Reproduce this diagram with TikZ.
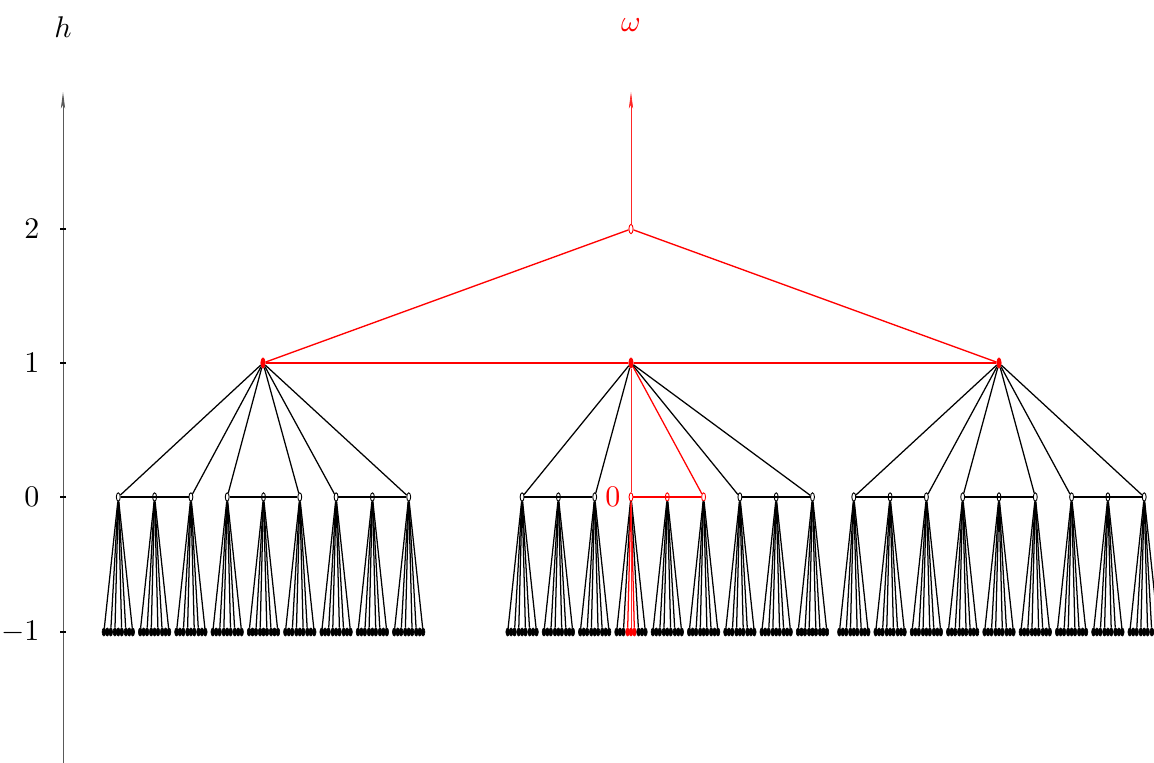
\documentclass[tikz,border=0pt]{standalone}
\usetikzlibrary{shapes.geometric,arrows.meta}
\begin{document}
\begin{tikzpicture}[x=0.334pt,y=-0.334pt,
  axis/.style={line width=0.3pt,black!65,-{Stealth[length=5.5pt,width=1.4pt,inset=1.2pt]}},
  tick/.style={line width=0.4pt},
  edge/.style={line width=0.42pt},
  hline/.style={line width=0.6pt},
  thinred/.style={line width=0.22pt,red!85},
  redge/.style={line width=0.45pt,red},
  opennode/.style={ellipse,draw,line width=0.3pt,fill=white,inner sep=0pt,minimum width=1.3pt,minimum height=2.8pt},
  rootnode/.style={opennode,draw=red,minimum width=1.4pt,minimum height=3.1pt},
  lonenode/.style={ellipse,draw=red,fill=red,line width=0.2pt,inner sep=0pt,minimum width=1.5pt,minimum height=3.5pt},
  leaf/.style={ellipse,draw,line width=0.2pt,inner sep=0pt,minimum width=1.25pt,minimum height=2.7pt}
]
\useasboundingbox (0,0) rectangle (1154,763);

% h axis
\coordinate (hb) at (63,763);
\coordinate (ht) at (63,92);
\draw[axis] (hb) -- (ht);
\node (hlab) at (63,27) {$h$};
\foreach \lv/\yy in {2/229,1/363,0/497,-1/632}{
  \coordinate (tl\lv) at (60,\yy);
  \coordinate (tr\lv) at (66,\yy);
  \draw[tick] (tl\lv) -- (tr\lv);
  \node[anchor=east] (lab\lv) at (50,\yy) {$\lv$};
}

% root and level 1
\node[rootnode] (root) at (631,229) {};
\coordinate (wt) at (631,92);
\draw[thinred,-{Stealth[length=5.5pt,width=1.4pt,inset=1.2pt]}] (root) -- (wt);
\node[red] (wlab) at (631,25) {$\omega$};
\foreach \n/\x in {L/263,M/631,R/999}
  \node[lonenode] (n1\n) at (\x,363) {};
\draw[redge] (root) -- (n1L);
\draw[redge] (root) -- (n1R);
\draw[redge] (n1L) -- (n1M) -- (n1R);

% level 0 and leaves
\foreach \n/\c/\s/\rk in {L/263.5/-4/0,M/631/-3/4,R/999/-4/0}{
  \foreach \k in {1,...,9}{
    \pgfmathsetmacro\xx{\c+(\s+\k-1)*36.3}
    \ifnum\rk>0 \ifnum\k>3 \ifnum\k<7 \def\col{red}\else\def\col{black}\fi\else\def\col{black}\fi\else\def\col{black}\fi
    \node[opennode,draw=\col] (n0\n\k) at (\xx,497) {};
    \foreach \g in {-1,0,1}{
      \foreach \t in {-1,0,1}{
        \pgfmathtruncatemacro\j{3*(\g+1)+\t+2}
        \pgfmathsetmacro\lx{\xx+\g*11+\t*3.4}
        \def\lcol{black}
        \ifnum\k=\rk \ifnum\g=0 \def\lcol{red}\fi\fi
        \node[leaf,draw=\lcol,fill=\lcol] (l\n\k-\j) at (\lx,632) {};
      }
    }
    \foreach \a/\b in {1/3,4/6,7/9}{
      \def\ecol{black}
      \ifnum\k=\rk \ifnum\a=4 \def\ecol{red}\fi\fi
      \draw[edge,\ecol] (l\n\k-\a) -- (l\n\k-\b);
      \draw[edge,\ecol] (n0\n\k) -- (l\n\k-\a);
      \draw[edge,\ecol] (n0\n\k) -- (l\n\k-\b);
    }
  }
}
\draw[thinred] (n0M4) -- (lM4-5);

% level 0 horizontals
\foreach \n in {L,M,R}{
  \foreach \a/\b in {1/3,4/6,7/9}{
    \def\ecol{black}
    \if\n M\ifnum\a=4 \def\ecol{red}\fi\fi
    \draw[hline,\ecol] (n0\n\a) -- (n0\n\b);
  }
}

% level 1 to level 0
\foreach \n in {L,R}{
  \foreach \k in {1,3,4,6,7,9}
    \draw[edge] (n1\n) -- (n0\n\k);
}
\foreach \k in {1,3,7,9}
  \draw[edge] (n1M) -- (n0M\k);
\draw[edge,red] (n1M) -- (n0M6);
\draw[thinred] (n1M) -- (n0M4);
\node[red,anchor=east] (zlab) at (631,497) {$0$};
\end{tikzpicture}
\end{document}
